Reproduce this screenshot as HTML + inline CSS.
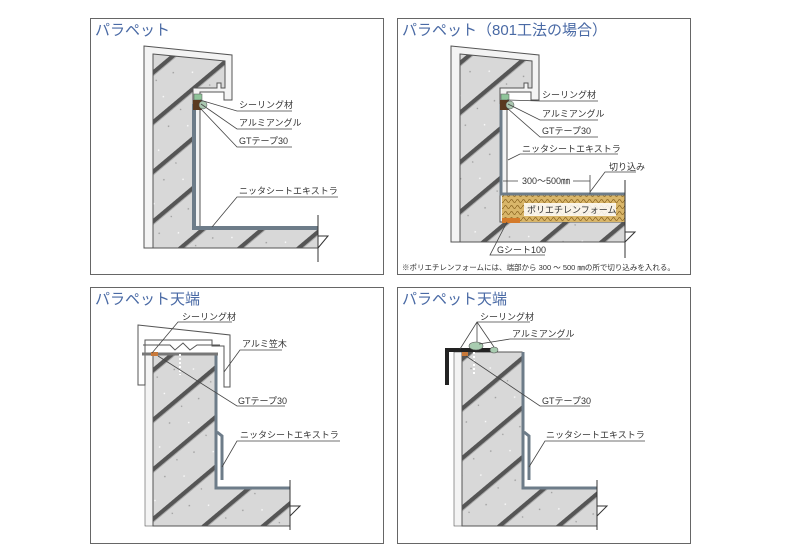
<!DOCTYPE html>
<html><head><meta charset="utf-8"><style>
body{margin:0;background:#fff}
svg{display:block}
text{font-family:"Liberation Sans","Noto Sans CJK JP",sans-serif;fill:#333}
.t{fill:#4a6aa5;font-size:15px}
.l{font-size:9px}
</style></head><body>
<svg width="800" height="550" viewBox="0 0 800 550" xmlns="http://www.w3.org/2000/svg">
<defs>
<pattern id="h" width="38" height="38" patternUnits="userSpaceOnUse" patternTransform="rotate(-40)">
<rect width="38" height="38" fill="#d8d8d8"/>
<rect x="0" y="0" width="38" height="4" fill="#555"/>
<rect x="0" y="4" width="38" height="1" fill="#aaa"/>
<circle cx="10" cy="15" r="0.8" fill="#999"/><circle cx="25" cy="27" r="0.8" fill="#fff"/><circle cx="30" cy="10" r="0.7" fill="#999"/>
</pattern>
<pattern id="f" width="6" height="6" patternUnits="userSpaceOnUse">
<rect width="6" height="6" fill="#d9b66a"/><path d="M0 3 Q1.5 0 3 3 T6 3" stroke="#8a6420" fill="none" stroke-width="0.8"/>
</pattern>
</defs>
<g fill="none" stroke="#666" stroke-width="1">
<rect x="90.5" y="18.5" width="293" height="256"/>
<rect x="397.5" y="18.5" width="293" height="256"/>
<rect x="90.5" y="287.5" width="293" height="256"/>
<rect x="397.5" y="287.5" width="293" height="256"/>
</g>
<text class="t" x="95" y="35">パラペット</text>
<text class="t" x="402" y="35">パラペット（801工法の場合）</text>
<text class="t" x="95" y="304">パラペット天端</text>
<text class="t" x="402" y="304">パラペット天端</text>

<!-- Panel 1 -->
<path d="M144 46 L232 55 L232 100 L224 100 L224 92 L200 92 L200 248 L144 248 Z" fill="#f3f3f3" stroke="#555"/>
<path d="M153 54 L225 61 L225 88 L221 88 L221 83 L217 83 L217 88 L193 88 L193 228 L318 228 L318 248 L153 248 Z" fill="url(#h)" stroke="#555"/>
<path d="M194 104 L194 228 L318 228" stroke="#6d7c89" stroke-width="4" fill="none"/>
<path d="M318 215 V262 M318 236 L328 236 L318 248" stroke="#333" fill="none"/>
<rect x="194" y="94" width="8" height="6" fill="#8fc49a" stroke="#555" stroke-width=".5"/>
<rect x="193" y="100" width="9" height="10" fill="#5a3a20"/>
<circle cx="203" cy="105" r="4" fill="#aac8b0" stroke="#555" stroke-width=".5"/>
<g stroke="#444" stroke-width=".8" fill="none">
<path d="M200 100 L237 111 H292 M201 104 L237 129 H292 M200 108 L237 147 H292 M212 227 L237 197 H338"/>
</g>
<text class="l" x="239" y="108">シーリング材</text>
<text class="l" x="239" y="126">アルミアングル</text>
<text class="l" x="239" y="144">GTテープ30</text>
<text class="l" x="239" y="194">ニッタシートエキストラ</text>

<!-- Panel 2 -->
<path d="M451 46 L539 55 L539 100 L531 100 L531 92 L507 92 L507 242 L451 242 Z" fill="#f3f3f3" stroke="#555"/>
<path d="M460 54 L532 61 L532 88 L528 88 L528 83 L524 83 L524 88 L500 88 L500 222 L625 222 L625 242 L460 242 Z" fill="url(#h)" stroke="#555"/>
<rect x="502" y="195" width="123" height="27" fill="url(#f)"/>
<rect x="502" y="218" width="18" height="5" fill="#d47a2a"/>
<path d="M501 104 L501 194 L625 194" stroke="#6d7c89" stroke-width="3" fill="none"/>
<path d="M625 180 V258 M625 232 L635 232 L625 242" stroke="#333" fill="none"/>
<rect x="501" y="94" width="8" height="6" fill="#8fc49a" stroke="#555" stroke-width=".5"/>
<rect x="500" y="100" width="9" height="10" fill="#5a3a20"/>
<circle cx="510" cy="105" r="4" fill="#aac8b0" stroke="#555" stroke-width=".5"/>
<rect x="524" y="203" width="92" height="13" fill="#fff" opacity=".85"/>
<text class="l" x="527" y="213">ポリエチレンフォーム</text>
<g stroke="#444" stroke-width=".8" fill="none">
<path d="M507 100 L540 101 H598 M508 104 L540 120 H598 M507 108 L540 137 H598 M508 160 L520 154 H618"/>
<path d="M503 181 H518 M573 181 H590 M590 175 V194 M590 192 L605 172 H636 M507 222 L490 255 H545"/>
</g>
<text class="l" x="542" y="98">シーリング材</text>
<text class="l" x="542" y="117">アルミアングル</text>
<text class="l" x="542" y="134">GTテープ30</text>
<text class="l" x="522" y="152">ニッタシートエキストラ</text>
<text class="l" x="522" y="184">300〜500㎜</text>
<text class="l" x="609" y="170">切り込み</text>
<text class="l" x="497" y="253">Gシート100</text>
<text x="402" y="270" style="font-size:7.5px">※ポリエチレンフォームには、端部から 300 ～ 500 ㎜の所で切り込みを入れる。</text>

<!-- Panel 3 -->
<rect x="145" y="354" width="8" height="172" fill="#f3f3f3" stroke="#555" stroke-width=".6"/>
<path d="M153 354 L215 354 L215 488 L290 488 L290 526 L153 526 Z" fill="url(#h)" stroke="#555"/>
<path d="M216 354 L216 488 L290 488" stroke="#6d7c89" stroke-width="3" fill="none"/>
<path d="M217 432 L222 436 L222 480" stroke="#6d7c89" stroke-width="3" fill="none"/>
<path d="M290 480 V530 M290 506 L300 506 L290 516" stroke="#333" fill="none"/>
<path d="M138 325 L230 335 L230 387 L224 387 L224 346 L212 346 L212 340 L145 340 L145 385 L138 385 Z" fill="#fff" stroke="#555"/>
<path d="M143 345 L170 345 L175 350 L183 343 L190 350 L197 345 L220 345" fill="none" stroke="#555"/>
<path d="M142 354 H218" stroke="#777" stroke-width="3"/>
<rect x="151" y="352" width="7" height="4" fill="#c8793a"/>
<path d="M180 350 V375" stroke="#fff" stroke-width="2" stroke-dasharray="2 2"/>
<g stroke="#444" stroke-width=".8" fill="none">
<path d="M152 353 L178 322 H232 M224 372 L240 350 H282 M158 356 L237 406 H285 M222 467 L237 441 H340"/>
</g>
<text class="l" x="182" y="320">シーリング材</text>
<text class="l" x="242" y="347">アルミ笠木</text>
<text class="l" x="238" y="404">GTテープ30</text>
<text class="l" x="240" y="438">ニッタシートエキストラ</text>

<!-- Panel 4 -->
<rect x="454" y="352" width="8" height="174" fill="#f3f3f3" stroke="#555" stroke-width=".6"/>
<path d="M462 352 L522 352 L522 488 L597 488 L597 526 L462 526 Z" fill="url(#h)" stroke="#555"/>
<path d="M523 352 L523 488 L597 488" stroke="#6d7c89" stroke-width="3" fill="none"/>
<path d="M524 432 L529 436 L529 480" stroke="#6d7c89" stroke-width="3" fill="none"/>
<path d="M597 480 V530 M597 506 L607 506 L597 516" stroke="#333" fill="none"/>
<path d="M447 385 V350 H497" stroke="#222" stroke-width="4" fill="none"/>
<ellipse cx="476" cy="346" rx="7" ry="4" fill="#a8ccb0" stroke="#555" stroke-width=".6"/>
<ellipse cx="494" cy="350" rx="4" ry="3" fill="#a8ccb0" stroke="#555" stroke-width=".6"/>
<rect x="462" y="352" width="6" height="4" fill="#c8793a"/>
<path d="M474 352 V375" stroke="#fff" stroke-width="2" stroke-dasharray="2 2"/>
<g stroke="#444" stroke-width=".8" fill="none">
<path d="M460 349 L477 322 H530 M477 342 L477 322 M494 347 L477 322 M479 344 L510 339 H570 M466 356 L540 406 H590 M529 467 L545 441 H645"/>
</g>
<text class="l" x="480" y="320">シーリング材</text>
<text class="l" x="512" y="337">アルミアングル</text>
<text class="l" x="542" y="404">GTテープ30</text>
<text class="l" x="546" y="438">ニッタシートエキストラ</text>
</svg>
</body></html>
